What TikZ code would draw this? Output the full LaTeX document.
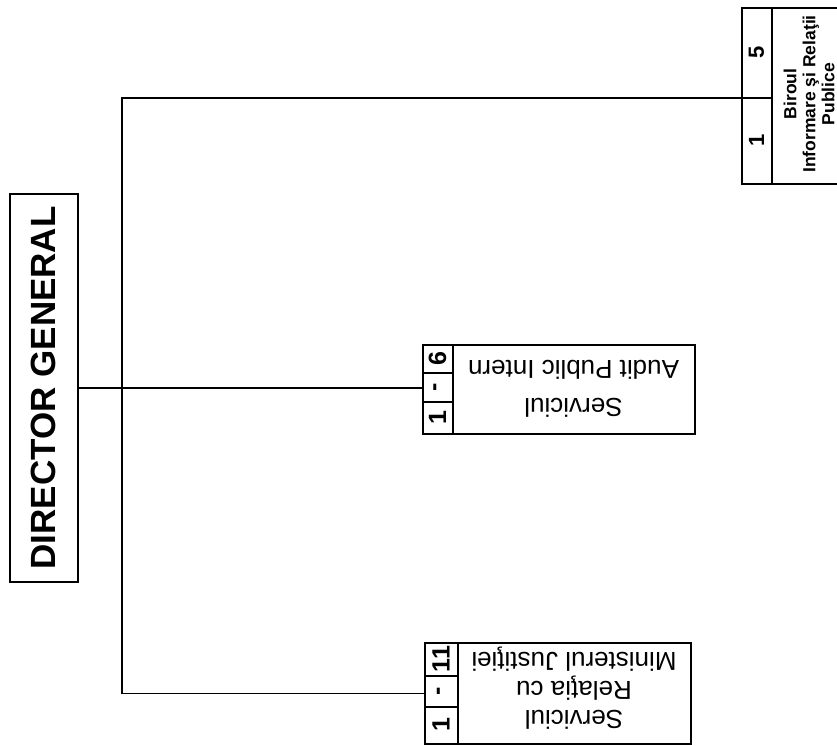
\documentclass[tikz,border=0pt]{standalone}
\usepackage{fontspec}
\setmainfont{Liberation Sans}
\begin{document}
\begin{tikzpicture}[x=1pt,y=-1pt,
  box/.style={draw, line width=1.8pt, inner sep=0pt, anchor=north west},
  cell/.style={line width=1.6pt},
  conn/.style={line width=1.6pt},
  num/.style={font=\bfseries\fontsize{25}{25}\selectfont, rotate=90, inner sep=0pt},
  smallnum/.style={font=\bfseries\fontsize{22}{22}\selectfont, rotate=90, inner sep=0pt},
  dgtext/.style={font=\bfseries\fontsize{35}{35}\selectfont, rotate=90, inner sep=0pt},
  unittext/.style={font=\fontsize{26}{#1}\selectfont, rotate=180, align=center, inner sep=0pt},
  birtext/.style={font=\bfseries\fontsize{17.5}{19}\selectfont, rotate=90, align=center, inner sep=0pt}]
\useasboundingbox (0,0) rectangle (837,745);
\clip (0,0) rectangle (837,745);

% Director General
\node[box, minimum width=68pt, minimum height=388pt] (dg) at (9,193) {};
\node[dgtext] (dgt) at (dg.center) {DIRECTOR GENERAL};

% Audit
\node[box, minimum width=272pt, minimum height=89pt] (audit) at (422,344) {};
\draw[cell] (audit.north west) ++(31,0) -- ++(0,89);
\draw[cell] (audit.north west) ++(0,29) -- ++(31,0);
\draw[cell] (audit.north west) ++(0,58) -- ++(31,0);
\node[num] (a6) at (437.5,358.5) {6};
\node[num] (adash) at (437.5,387.5) {-};
\node[num] (a1) at (437.5,417.5) {1};
\node[unittext=38pt] (atext) at (573.5,389) {Serviciul\\Audit Public Intern};

% Relatia cu Ministerul Justitiei
\node[box, minimum width=266pt, minimum height=101pt] (rel) at (424,642) {};
\draw[cell] (rel.north west) ++(34,0) -- ++(0,101);
\draw[cell] (rel.north west) ++(0,34) -- ++(34,0);
\draw[cell] (rel.north west) ++(0,65) -- ++(34,0);
\node[num] (r11) at (441,659) {11};
\node[num] (rdash) at (441,691.5) {-};
\node[num] (r1) at (441,725) {1};
\node[unittext=29pt] (rtext) at (574,688) {Serviciul\\Relaţia cu\\Ministerul Justiţiei};

% Biroul
\node[box, minimum width=110pt, minimum height=176pt] (bir) at (741,7) {};
\draw[cell] (bir.north west) ++(31,0) -- ++(0,176);
\draw[cell] (bir.north west) ++(0,91) -- ++(31,0);
\node[smallnum] (b5) at (756.5,52.5) {5};
\node[smallnum] (b1) at (756.5,140.5) {1};
\node[birtext] (btext) at (809,94) {Biroul\\Informare şi Relaţii\\Publice};

% connectors
\coordinate (bj) at (741,98);
\coordinate (top) at (122,98);
\draw[conn] (bj) -- (top) |- (rel.west);
\draw[conn] (dg.east) -- (dg.east -| audit.west);
\end{tikzpicture}
\end{document}
